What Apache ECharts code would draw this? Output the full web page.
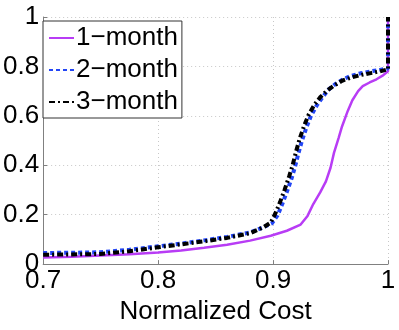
<!DOCTYPE html>
<html>
<head>
<meta charset="utf-8">
<script src="https://cdn.jsdelivr.net/npm/echarts@6/dist/echarts.min.js"></script>
<style>
  html, body { margin: 0; padding: 0; background: #fff; }
  #chart { width: 399px; height: 330px; }
</style>
</head>
<body>
<div id="chart"></div>
<script>
// series names
const seriesNames = ['1\u2212month', '2\u2212month', '3\u2212month'];

// 1-month curve
const oneMonthX = [0.700, 0.725, 0.750, 0.775, 0.800, 0.820, 0.840, 0.860, 0.880, 0.898, 0.912, 0.924, 0.930, 0.935, 0.941, 0.946, 0.950, 0.953, 0.957, 0.960, 0.965, 0.969, 0.974, 0.978, 0.984, 0.990, 0.996, 1.000, 1.000];
const oneMonthY = [0.027, 0.030, 0.035, 0.040, 0.047, 0.055, 0.066, 0.078, 0.095, 0.115, 0.135, 0.160, 0.195, 0.243, 0.290, 0.335, 0.390, 0.450, 0.510, 0.557, 0.620, 0.663, 0.700, 0.720, 0.735, 0.748, 0.765, 0.780, 1.000];

// 2-month curve
const twoMonthX = [0.700, 0.725, 0.750, 0.775, 0.800, 0.820, 0.840, 0.860, 0.880, 0.892, 0.899, 0.904, 0.908, 0.912, 0.916, 0.919, 0.922, 0.925, 0.929, 0.933, 0.938, 0.943, 0.948, 0.954, 0.961, 0.968, 0.976, 0.985, 0.993, 1.000, 1.000];
const twoMonthY = [0.045, 0.046, 0.048, 0.058, 0.072, 0.083, 0.096, 0.110, 0.128, 0.150, 0.165, 0.198, 0.243, 0.292, 0.345, 0.392, 0.447, 0.497, 0.553, 0.600, 0.642, 0.675, 0.705, 0.728, 0.748, 0.762, 0.772, 0.780, 0.786, 0.792, 1.000];

// 3-month curve
const threeMonthX = [0.700, 0.725, 0.750, 0.775, 0.800, 0.820, 0.840, 0.860, 0.880, 0.892, 0.898, 0.902, 0.906, 0.910, 0.914, 0.917, 0.920, 0.923, 0.927, 0.931, 0.936, 0.941, 0.947, 0.953, 0.960, 0.968, 0.976, 0.985, 0.993, 1.000, 1.000];
const threeMonthY = [0.038, 0.039, 0.041, 0.052, 0.068, 0.080, 0.092, 0.106, 0.125, 0.150, 0.168, 0.205, 0.250, 0.300, 0.355, 0.400, 0.455, 0.505, 0.560, 0.605, 0.645, 0.675, 0.702, 0.722, 0.742, 0.755, 0.765, 0.773, 0.780, 0.788, 1.000];

const pairs = (xs, ys) => xs.map((x, i) => [x, ys[i]]);

const font = 'Liberation Sans, Arial, Helvetica, sans-serif';
const chart = echarts.init(document.getElementById('chart'));

const option = {
  animation: false,
  grid: { left: 40, right: 11, top: 17, bottom: 58, containLabel: false },
  legend: {
    orient: 'vertical',
    left: 43,
    top: 21,
    padding: [4, 4, 3, 5],
    itemGap: 6,
    itemWidth: 25,
    itemHeight: 14,
    backgroundColor: '#fff',
    borderColor: '#333',
    borderWidth: 1,
    itemStyle: { opacity: 0 },
    textStyle: { fontSize: 26, color: '#000', fontFamily: font, padding: [0, 0, 0, -3] },
    data: seriesNames
  },
  xAxis: {
    type: 'value',
    min: 0.7,
    max: 1,
    interval: 0.1,
    name: 'Normalized Cost',
    nameLocation: 'middle',
    nameGap: 28,
    nameTextStyle: { fontSize: 26, color: '#000', fontFamily: font },
    axisLine: { lineStyle: { color: '#808080', width: 1 } },
    axisTick: { inside: true, length: 4, lineStyle: { color: '#808080' } },
    axisLabel: { fontSize: 26, color: '#000', fontFamily: font, margin: 4, formatter: v => String(+v.toFixed(1)) },
    splitLine: { show: true, lineStyle: { color: '#c8c8c8', type: [1, 3], width: 1 } }
  },
  yAxis: {
    type: 'value',
    min: 0,
    max: 1,
    interval: 0.2,
    axisLine: { show: true, lineStyle: { color: '#808080', width: 1 } },
    axisTick: { show: true, inside: true, length: 4, lineStyle: { color: '#808080' } },
    axisLabel: { fontSize: 26, color: '#000', fontFamily: font, margin: 4, formatter: v => String(+v.toFixed(1)) },
    splitLine: { show: true, lineStyle: { color: '#c8c8c8', type: [1, 3], width: 1 } }
  },
  series: [
    {
      name: seriesNames[0],
      type: 'line',
      symbol: 'none',
      data: pairs(oneMonthX, oneMonthY),
      lineStyle: { color: '#b83cf5', width: 2.5 },
      itemStyle: { color: '#b83cf5' }
    },
    {
      name: seriesNames[1],
      type: 'line',
      symbol: 'none',
      data: pairs(twoMonthX, twoMonthY),
      lineStyle: { color: '#2346f5', width: 4, type: [4, 3] },
      itemStyle: { color: '#2346f5' }
    },
    {
      name: seriesNames[2],
      type: 'line',
      symbol: 'none',
      data: pairs(threeMonthX, threeMonthY),
      lineStyle: { color: '#000', width: 4, type: [6, 3, 2, 3] },
      itemStyle: { color: '#000' }
    }
  ]
};

chart.setOption(option);
</script>
</body>
</html>
